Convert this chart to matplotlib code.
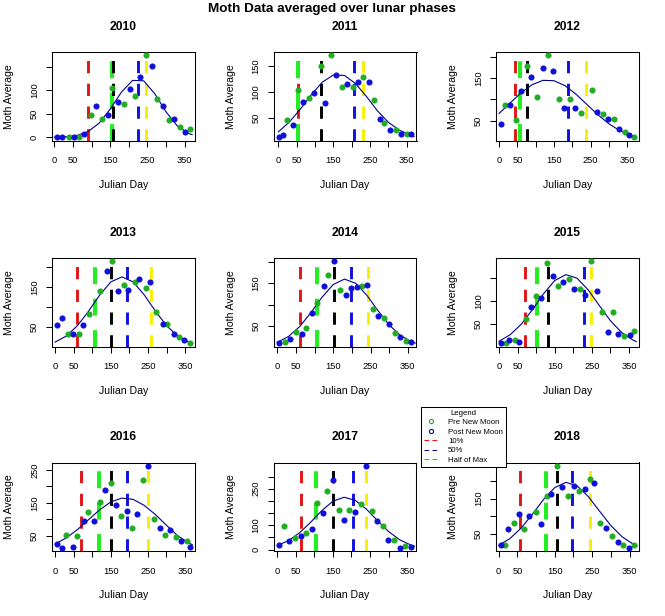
import matplotlib
matplotlib.use("Agg")
import matplotlib.pyplot as plt
from matplotlib.lines import Line2D

plt.rcParams['font.family'] = 'Liberation Sans'

# --------------------------------------
# Data
# --------------------------------------
YEARS = [2010, 2011, 2012, 2013, 2014, 2015, 2016, 2017, 2018]

# green points (pre new moon)
PRE_DAY = {
    2010: [39.5, 67, 98, 127.5, 155, 186, 217, 247, 276, 307, 337, 363.5],
    2011: [24, 54, 84, 115, 143, 172, 202, 230, 260, 289, 321, 351],
    2012: [17, 45, 76, 104, 135, 165, 194, 223, 253, 284, 314, 343, 368],
    2013: [34, 65, 92, 121, 153, 184, 214, 244, 272, 302, 332, 362],
    2014: [20, 49, 78, 106, 137, 167, 226, 257, 286, 316, 344],
    2015: [18, 42, 73, 100, 130, 160, 189, 218, 247, 277, 307, 337, 363],
    2016: [30, 60, 90, 120, 151, 178, 207, 237, 266, 296, 326, 356],
    2017: [18, 47, 78, 107, 135, 165, 194, 225, 256, 285, 314, 345],
    2018: [16, 41, 69, 100, 128, 156, 186, 215, 244, 272, 302, 332, 361],
}
PRE_AVG = {
    2010: [0, 1.4, 47, 39, 106, 71, 89, 175, 81.5, 36, 22, 17.7],
    2011: [47, 103, 88, 149, 170, 109, 109, 128, 85, 40, 28, 20],
    2012: [86, 52, 178, 106, 204, 102, 100, 67, 122, 65, 55, 24, 11],
    2013: [33, 31, 83, 139, 214, 154, 162, 146, 87, 56, 24, 9],
    2014: [13, 36, 44, 103, 170, 134, 144, 90, 68, 33, 15],
    2015: [9, 16, 61, 112, 183, 134, 149, 127, 187, 76, 77, 24, 35],
    2016: [53, 50, 121, 151, 210, 110, 73, 220, 100, 53, 46, 33],
    2017: [97, 48, 68, 192, 239, 164, 161, 189, 157, 97, 41, 17],
    2018: [18, 81, 64, 113, 157, 243, 158, 171, 206, 81, 45, 20, 18],
}

# blue points (post new moon)
POST_DAY = {
    2010: [8, 21.5, 53, 81, 113, 143, 172, 202, 231, 262, 291, 320, 350],
    2011: [1, 12, 41, 68, 98, 127, 158, 188, 217, 246, 276, 303, 334, 362],
    2012: [6, 31, 59, 88, 119, 148, 178, 208, 267, 297, 327, 356],
    2013: [6, 18, 49, 76, 139, 168, 197, 227, 256, 289, 319, 348],
    2014: [4, 34, 65, 93, 124, 152, 183, 197, 213, 241, 270, 299, 328, 359],
    2015: [6, 27, 55, 85, 113, 145, 173, 203, 232, 263, 294, 321, 353],
    2016: [6, 18, 48, 77, 104, 134, 164, 194, 221, 250, 282, 309, 340, 363],
    2017: [4, 31, 64, 94, 122, 151, 181, 210, 240, 269, 298, 331, 361],
    2018: [7, 25, 53, 82, 113, 140, 170, 202, 230, 256, 288, 318, 348],
}
POST_AVG = {
    2010: [0, 0, 1.4, 6.4, 66, 47.5, 74.5, 102, 128, 152, 67, 39, 10.6],
    2011: [13.7, 18, 36.6, 80.6, 97.8, 78.7, 132, 115.6, 119, 119.4, 48.7, 27.7, 20, 20],
    2012: [41, 86, 120, 152, 175, 166, 79, 79, 71, 54, 30, 16],
    2013: [54, 71, 31, 54, 189, 139, 142, 169, 162, 58, 33, 17],
    2014: [9, 20, 30, 80, 144, 202, 122, 138, 141, 146, 73, 54, 24, 12],
    2015: [8, 16, 11, 87, 106, 154, 141, 127, 114, 121, 33, 28, 25],
    2016: [25, 13, 16, 96, 96, 190, 143, 126, 116, 263, 73, 67, 33, 16],
    2017: [19, 37, 57, 84, 152, 284, 120, 156, 344, 117, 41, 8, 12],
    2018: [20, 64, 106, 100, 78, 164, 184, 187, 178, 194, 67, 28, 11],
}

# fitted curve, read every 30 days (plus day 370)
CURVE_DAYS = [0, 30, 60, 90, 120, 150, 180, 210, 240, 270, 300, 330, 360, 370]
CURVE_AVG = {
    2010: [0.2, 0.9, 3.6, 11.7, 29.8, 60.1, 96.1, 121.4, 120.4, 92.5, 54.2, 24.3, 8.3, 5.5],
    2011: [24.1, 42.8, 67.5, 95, 118.9, 132.5, 131.5, 116.2, 91.4, 64, 42, 27, 18, 15],
    2012: [67, 91.5, 115.5, 134.6, 145, 144.1, 132.5, 112.5, 88.2, 63.9, 42.8, 26.4, 15.1, 12.3],
    2013: [11.8, 26.8, 52.7, 89.1, 129.6, 162.4, 175, 162.4, 129.6, 89.1, 52.7, 26.8, 11.8, 8.6],
    2014: [11.1, 24.8, 48.2, 80.9, 117.3, 147.3, 160, 150.2, 122, 85.7, 52, 27.4, 12.4, 9.3],
    2015: [12.4, 26.6, 49.7, 81.3, 116.1, 144.9, 157.8, 150.2, 124.8, 90.6, 57.4, 31.8, 15.4, 11.7],
    2016: [24.4, 42.8, 68, 98.2, 128.5, 152.6, 164.4, 160.7, 142.5, 114.7, 82, 50, 28, 22],
    2017: [17.2, 36.9, 69, 112.7, 160.3, 198.8, 215, 202.5, 166.4, 119.1, 74.3, 40.4, 19.1, 14.5],
    2018: [17.9, 36.8, 66.5, 105.7, 147.6, 181.3, 196, 186, 155.4, 114.1, 73.7, 41.9, 20.9, 16.1],
}

# vertical marker days
DAY_10PCT = {2010: 91.5, 2011: 54, 2012: 42.5, 2013: 58, 2014: 62, 2015: 69, 2016: 69, 2017: 64, 2018: 56}
DAY_HALF_MAX = {2010: 154, 2011: 54, 2012: 57, 2013: 108, 2014: 107, 2015: 101, 2016: 119, 2017: 105, 2018: 126}
DAY_BLACK = {2010: 157, 2011: 116, 2012: 76, 2013: 151, 2014: 153, 2015: 131, 2016: 151, 2017: 151, 2018: 156}
DAY_50PCT = {2010: 223.5, 2011: 206, 2012: 189, 2013: 193, 2014: 197, 2015: 230, 2016: 194, 2017: 205, 2018: 197}
DAY_YELLOW = {2010: 247, 2011: 231.5, 2012: 238, 2013: 258, 2014: 242, 2015: 249, 2016: 251, 2017: 239, 2018: 244}

# y ticks (R drops overlapping labels)
YTICKS = {
    2010: [0, 50, 100, 150], 2011: [50, 100, 150], 2012: [50, 100, 150, 200],
    2013: [50, 100, 150, 200], 2014: [50, 100, 150, 200], 2015: [50, 100, 150],
    2016: [50, 100, 150, 200, 250], 2017: [0, 50, 100, 150, 200, 250, 300],
    2018: [50, 100, 150, 200],
}
YTICK_LABELS = {
    2010: ['0', '50', '100', ''], 2011: ['50', '100', '150'], 2012: ['50', '', '150', ''],
    2013: ['50', '', '150', ''], 2014: ['50', '', '150', ''], 2015: ['50', '100', ''],
    2016: ['50', '', '150', '', '250'], 2017: ['0', '', '100', '', '', '250', ''],
    2018: ['50', '', '150', ''],
}
XTICKS = [0, 50, 100, 150, 200, 250, 300, 350]
XTICK_LABELS = ['0', '50', '', '150', '', '250', '', '350']

# colours
PRE_COL = '#22AE22'
POST_COL = '#1010D8'
CURVE_COL = '#00008C'
RED = '#E01515'
LIME = '#22EE22'
BLUE = '#1010E0'
YELLOW = '#F8F000'


def r_range(vals):
    lo, hi = min(vals), max(vals)
    ext = 0.04 * (hi - lo)
    return lo - ext, hi + ext


# --------------------------------------
# Plot
# --------------------------------------
W, H = 665, 616
fig = plt.figure(figsize=(W / 100, H / 100), dpi=100)
fig.text(331.5 / W, 1 - 9 / H, 'Moth Data averaged over lunar phases',
         ha='center', va='center', fontsize=9.7, fontweight='bold')

col_left = [52, 273.5, 496]
row_top = [52, 258, 462.5]
ax_w, ax_h = 143, 88.5

thin = (0, (4.2, 3.6))
for i, year in enumerate(YEARS):
    r, c = divmod(i, 3)
    ax = fig.add_axes([col_left[c] / W, 1 - (row_top[r] + ax_h) / H, ax_w / W, ax_h / H])

    xlo, xhi = r_range(PRE_DAY[year] + POST_DAY[year])
    ylo, yhi = r_range(PRE_AVG[year] + POST_AVG[year])

    # dashed markers, drawn bottom to top like abline
    for day, col, lw in [(DAY_10PCT[year], RED, 2.1),
                         (DAY_HALF_MAX[year], LIME, 2.9),
                         (DAY_BLACK[year], 'black', 2.1),
                         (DAY_50PCT[year], BLUE, 2.1),
                         (DAY_YELLOW[year], YELLOW, 2.1)]:
        ax.plot([day, day], [ylo, yhi], color=col, lw=lw, linestyle=thin, zorder=1)

    ax.plot(CURVE_DAYS, CURVE_AVG[year], color=CURVE_COL, lw=0.8, zorder=2)
    ax.plot(PRE_DAY[year], PRE_AVG[year], 'o', color=PRE_COL, ms=4.4, mew=0, zorder=3)
    ax.plot(POST_DAY[year], POST_AVG[year], 'o', color=POST_COL, ms=4.4, mew=0, zorder=3)

    ax.set_xlim(xlo, xhi)
    ax.set_ylim(ylo, yhi)
    ax.set_xticks(XTICKS, XTICK_LABELS)
    ax.set_yticks(YTICKS[year], YTICK_LABELS[year])
    ax.tick_params(direction='out', length=4.3, width=0.75, labelsize=6.7)
    ax.tick_params(axis='x', pad=7)
    ax.tick_params(axis='y', pad=5, labelrotation=90)
    for lbl in ax.get_yticklabels():
        lbl.set_va('center')
    for s in ax.spines.values():
        s.set_linewidth(0.75)

    ax.set_xlabel('Julian Day', fontsize=7.6)
    ax.xaxis.set_label_coords(0.5, -44 / ax_h)
    ax.xaxis.label.set_va('center')
    ax.set_ylabel('Moth Average', fontsize=7.6)
    ax.yaxis.set_label_coords(-43 / ax_w, 0.5)
    ax.yaxis.label.set_va('center')

    ax.text(0.5, 1 + 25 / ax_h, str(year), transform=ax.transAxes,
            ha='center', va='center', fontsize=8.7, fontweight='bold')

# legend
handles = [
    Line2D([], [], ls='none', marker='o', mfc='none', mec=PRE_COL, ms=3.0, mew=0.8, label='Pre New Moon'),
    Line2D([], [], ls='none', marker='o', mfc='none', mec='#10108C', ms=3.0, mew=0.8, label='Post New Moon'),
    Line2D([], [], color=RED, lw=0.8, ls=(0, (4.2, 3.0)), label='10%'),
    Line2D([], [], color='#10108C', lw=0.8, ls=(0, (4.2, 3.0)), label='50%'),
    Line2D([], [], color='#22CC22', lw=0.8, ls=(0, (4.2, 3.0)), label='Half of Max'),
]
leg = fig.legend(handles=handles, loc='upper left', bbox_to_anchor=(421 / W, 1 - 406.7 / H),
                 fontsize=5.6, title='Legend', title_fontsize=5.6, frameon=True, fancybox=False,
                 edgecolor='black', framealpha=1, borderpad=0.4, labelspacing=0.25,
                 handlelength=1.9, handletextpad=1.2, borderaxespad=0)
leg.get_frame().set_linewidth(0.75)

fig.savefig('out.png', dpi=100)
